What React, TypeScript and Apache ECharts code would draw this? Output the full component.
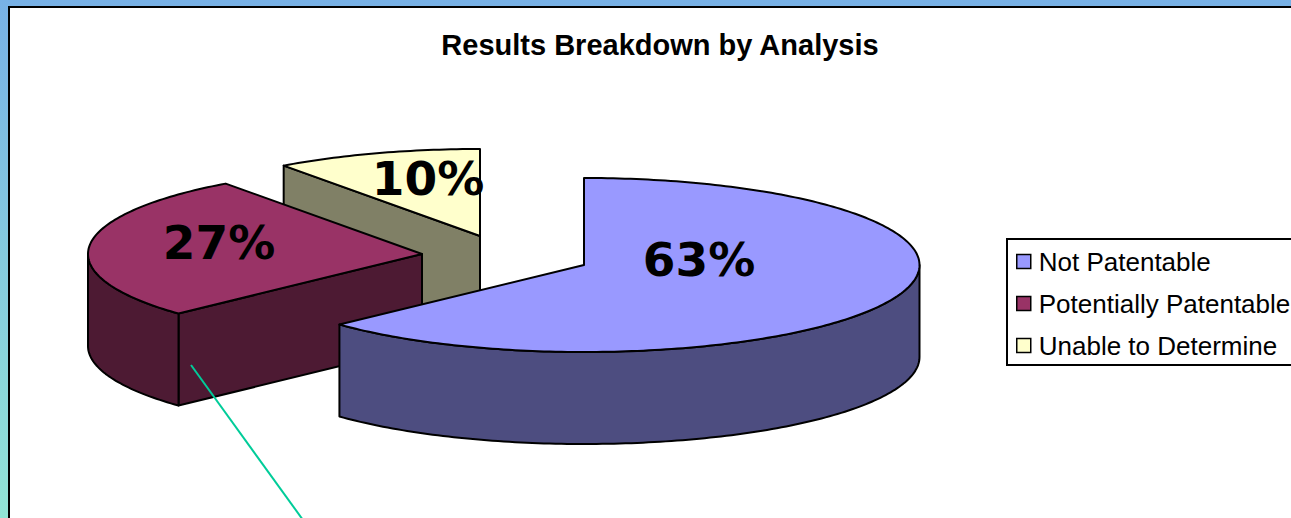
import React, { useEffect, useRef } from "react";
import * as echarts from "echarts";

const categories = ["Not Patentable", "Potentially Patentable", "Unable to Determine"];
const values = [63, 27, 10];
const TITLE = "Results Breakdown by Analysis";

const topColors = ["#9999FF", "#993366", "#FFFFCC"];
const sideColors = ["#4D4D80", "#4D1A33", "#808066"];
const apexes = [[584, 265], [422, 254], [480, 236]];
const labelCenters = [[699, 259], [219, 242], [428, 178]];
const radiiX = [335.5, 334, 334];
const RY = 87;
const DEPTH = 92;
const FONT = "'Liberation Sans', Arial, sans-serif";

const total = values.reduce((a, b) => a + b, 0);
const pt = (i: number, deg: number, dy = 0) => {
  const r = (deg * Math.PI) / 180;
  return [apexes[i][0] + radiiX[i] * Math.sin(r), apexes[i][1] - RY * Math.cos(r) + dy];
};
const arc = (i: number, a: number, b: number, dy = 0) => {
  const pts: number[][] = [];
  const n = Math.max(1, Math.ceil(Math.abs(b - a)));
  for (let k = 0; k <= n; k++) pts.push(pt(i, a + ((b - a) * k) / n, dy));
  return pts;
};

function renderSlice(i: number) {
  const start = (values.slice(0, i).reduce((a, b) => a + b, 0) / total) * 360;
  const end = start + (values[i] / total) * 360;
  const stroke = { stroke: "#000", lineWidth: 2, lineJoin: "round" };
  const side = { ...stroke, fill: sideColors[i] };
  const children: any[] = [];
  const apex = apexes[i];
  const face = (deg: number) => {
    const e = pt(i, deg);
    children.push({
      type: "polygon",
      shape: { points: [apex, e, [e[0], e[1] + DEPTH], [apex[0], apex[1] + DEPTH]] },
      style: side,
    });
  };
  if (start >= 180 && start < 360) face(start);
  if (end > 0 && end < 180) face(end);
  const wa = Math.max(start, 90);
  const wb = Math.min(end, 270);
  if (wb > wa) {
    children.push({
      type: "polygon",
      shape: { points: [...arc(i, wa, wb), ...arc(i, wb, wa, DEPTH)] },
      style: side,
    });
  }
  children.push({
    type: "polygon",
    shape: { points: [apex, ...arc(i, start, end)] },
    style: { ...stroke, fill: topColors[i] },
  });
  children.push({
    type: "text",
    x: labelCenters[i][0],
    y: labelCenters[i][1],
    style: {
      text: `${values[i]}%`,
      fill: "#000",
      font: "bold 47px 'DejaVu Sans', Verdana, sans-serif",
      align: "center",
      verticalAlign: "middle",
    },
  });
  return { type: "group", children };
}

export default function App() {
  const ref = useRef<HTMLDivElement>(null);
  useEffect(() => {
    const chart = echarts.init(ref.current!, undefined, { renderer: "svg" });
    chart.setOption({
      animation: false,
      backgroundColor: {
        type: "linear",
        x: 0,
        y: 0,
        x2: 0,
        y2: 1,
        colorStops: [
          { offset: 0, color: "#78B1E6" },
          { offset: 1, color: "#92E4D6" },
        ],
      },
      title: {
        text: TITLE,
        left: 655,
        top: 25,
        textAlign: "center",
        textStyle: { fontFamily: FONT, fontWeight: "bold", fontSize: 29, color: "#000" },
      },
      legend: {
        orient: "vertical",
        left: 1007,
        top: 239,
        data: categories,
        icon: "rect",
        itemWidth: 14,
        itemHeight: 14,
        itemGap: 13,
        padding: [8, 30, 5, 9],
        borderColor: "#000",
        borderWidth: 2,
        backgroundColor: "#fff",
        itemStyle: { borderColor: "#000", borderWidth: 1.5 },
        selectedMode: false,
        textStyle: { fontFamily: FONT, fontSize: 26, color: "#000", padding: [0, 0, 0, 3], lineHeight: 29 },
      },
      graphic: [
        {
          type: "rect",
          z: 0,
          shape: { x: 9, y: 7, width: 1400, height: 600 },
          style: { fill: "#fff", stroke: "#000", lineWidth: 2 },
        },
        {
          type: "line",
          z: 100,
          shape: { x1: 191, y1: 365, x2: 303, y2: 520 },
          style: { stroke: "#00CC99", lineWidth: 2 },
        },
      ],
      series: [2, 1, 0].map((i) => ({
        type: "custom",
        name: categories[i],
        coordinateSystem: "none",
        silent: true,
        itemStyle: { color: topColors[i] },
        data: [[values[i]]],
        renderItem: () => renderSlice(i),
      })),
    });
    return () => chart.dispose();
  }, []);
  return <div ref={ref} style={{ position: "absolute", left: 0, top: 0, width: 1291, height: 518 }} />;
}
